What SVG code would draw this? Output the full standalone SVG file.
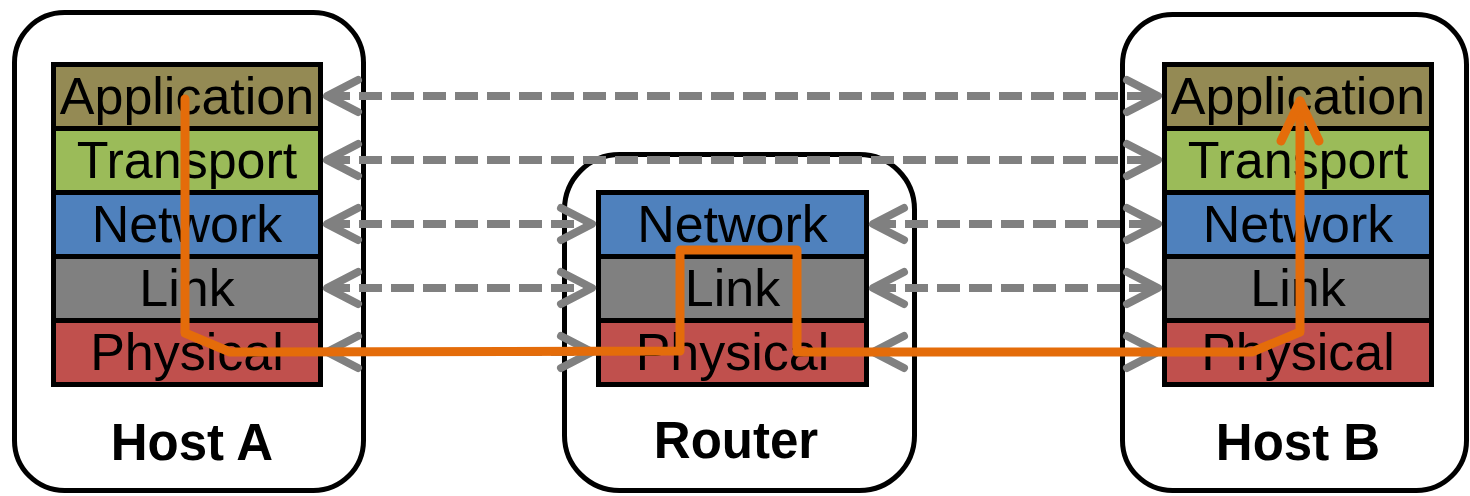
<svg xmlns="http://www.w3.org/2000/svg" width="1470" height="496" viewBox="0 0 1470 496">
<style>
.box{fill:#fff;stroke:#000;stroke-width:5}
.lay{stroke:#000;stroke-width:5}
.app{fill:#948A54}.tra{fill:#9BBB59}.net{fill:#4F81BD}.lnk{fill:#808080}.phy{fill:#C0504D}
.lt{font-family:"Liberation Sans",Arial,sans-serif;font-size:52px;fill:#000;text-anchor:middle}
.hl{font-family:"Liberation Sans",Arial,sans-serif;font-size:51px;font-weight:bold;fill:#000;text-anchor:middle}
.dash{stroke:#808080;stroke-width:8;fill:none;stroke-dasharray:23 9;marker-start:url(#chev);marker-end:url(#chev)}
.path{stroke:#E46C0A;stroke-width:9;fill:none;stroke-linejoin:round;stroke-linecap:round;marker-end:url(#ochev)}
</style>
<defs>
<marker id="chev" markerUnits="userSpaceOnUse" orient="auto-start-reverse" overflow="visible" markerWidth="1" markerHeight="1" refX="0" refY="0">
<path d="M-31,-16 L0,0 L-31,16" fill="none" stroke="#808080" stroke-width="8" stroke-linecap="round" stroke-linejoin="round" stroke-dasharray="none"/>
</marker>
<marker id="ochev" markerUnits="userSpaceOnUse" orient="auto" overflow="visible" markerWidth="1" markerHeight="1" refX="0" refY="0">
<path d="M-40,-19 L0,0 L-40,19" fill="none" stroke="#E46C0A" stroke-width="9" stroke-linecap="round" stroke-linejoin="round"/>
</marker>
</defs>
<rect width="1470" height="496" fill="#fff"/>

<g id="hostA">
<rect class="box" x="14.5" y="12.5" width="349" height="478" rx="50"/>
<rect class="lay app" x="53.5" y="64.5" width="267" height="64"/>
<rect class="lay tra" x="53.5" y="128.5" width="267" height="64"/>
<rect class="lay net" x="53.5" y="192.5" width="267" height="64"/>
<rect class="lay lnk" x="53.5" y="256.5" width="267" height="64"/>
<rect class="lay phy" x="53.5" y="320.5" width="267" height="64"/>
<text class="lt" x="187" y="114">Application</text>
<text class="lt" x="187" y="178">Transport</text>
<text class="lt" x="187" y="242">Network</text>
<text class="lt" x="187" y="306">Link</text>
<text class="lt" x="187" y="370">Physical</text>
<text class="hl" x="192" y="460">Host A</text>
</g>

<g id="router">
<rect class="box" x="564.5" y="154.5" width="350" height="336" rx="55"/>
<rect class="lay net" x="598.5" y="192.5" width="268" height="64"/>
<rect class="lay lnk" x="598.5" y="256.5" width="268" height="64"/>
<rect class="lay phy" x="598.5" y="320.5" width="268" height="64"/>
<text class="lt" x="732.5" y="242">Network</text>
<text class="lt" x="732.5" y="306">Link</text>
<text class="lt" x="732.5" y="370">Physical</text>
<text class="hl" x="736" y="458">Router</text>
</g>

<g id="hostB">
<rect class="box" x="1122.5" y="14.5" width="344" height="476" rx="50"/>
<rect class="lay app" x="1164.5" y="64.5" width="267" height="64"/>
<rect class="lay tra" x="1164.5" y="128.5" width="267" height="64"/>
<rect class="lay net" x="1164.5" y="192.5" width="267" height="64"/>
<rect class="lay lnk" x="1164.5" y="256.5" width="267" height="64"/>
<rect class="lay phy" x="1164.5" y="320.5" width="267" height="64"/>
<text class="lt" x="1298" y="114">Application</text>
<text class="lt" x="1298" y="178">Transport</text>
<text class="lt" x="1298" y="242">Network</text>
<text class="lt" x="1298" y="306">Link</text>
<text class="lt" x="1298" y="370">Physical</text>
<text class="hl" x="1298" y="460">Host B</text>
</g>

<g id="connectors">
<path class="dash" d="M327,96 L1158,96"/>
<path class="dash" d="M327,160 L1158,160"/>
<path class="dash" d="M327,224 L592,224"/>
<path class="dash" d="M327,288 L592,288"/>
<path class="dash" d="M327,352 L592,352"/>
<path class="dash" d="M873,224 L1158,224"/>
<path class="dash" d="M873,288 L1158,288"/>
<path class="dash" d="M873,352 L1158,352"/>
<path class="path" d="M185,99 L185,333 L230,352 L680,351 L680,250 L797,250 L797,352 L1252,352 L1300,332 L1300,101"/>
</g>
</svg>
